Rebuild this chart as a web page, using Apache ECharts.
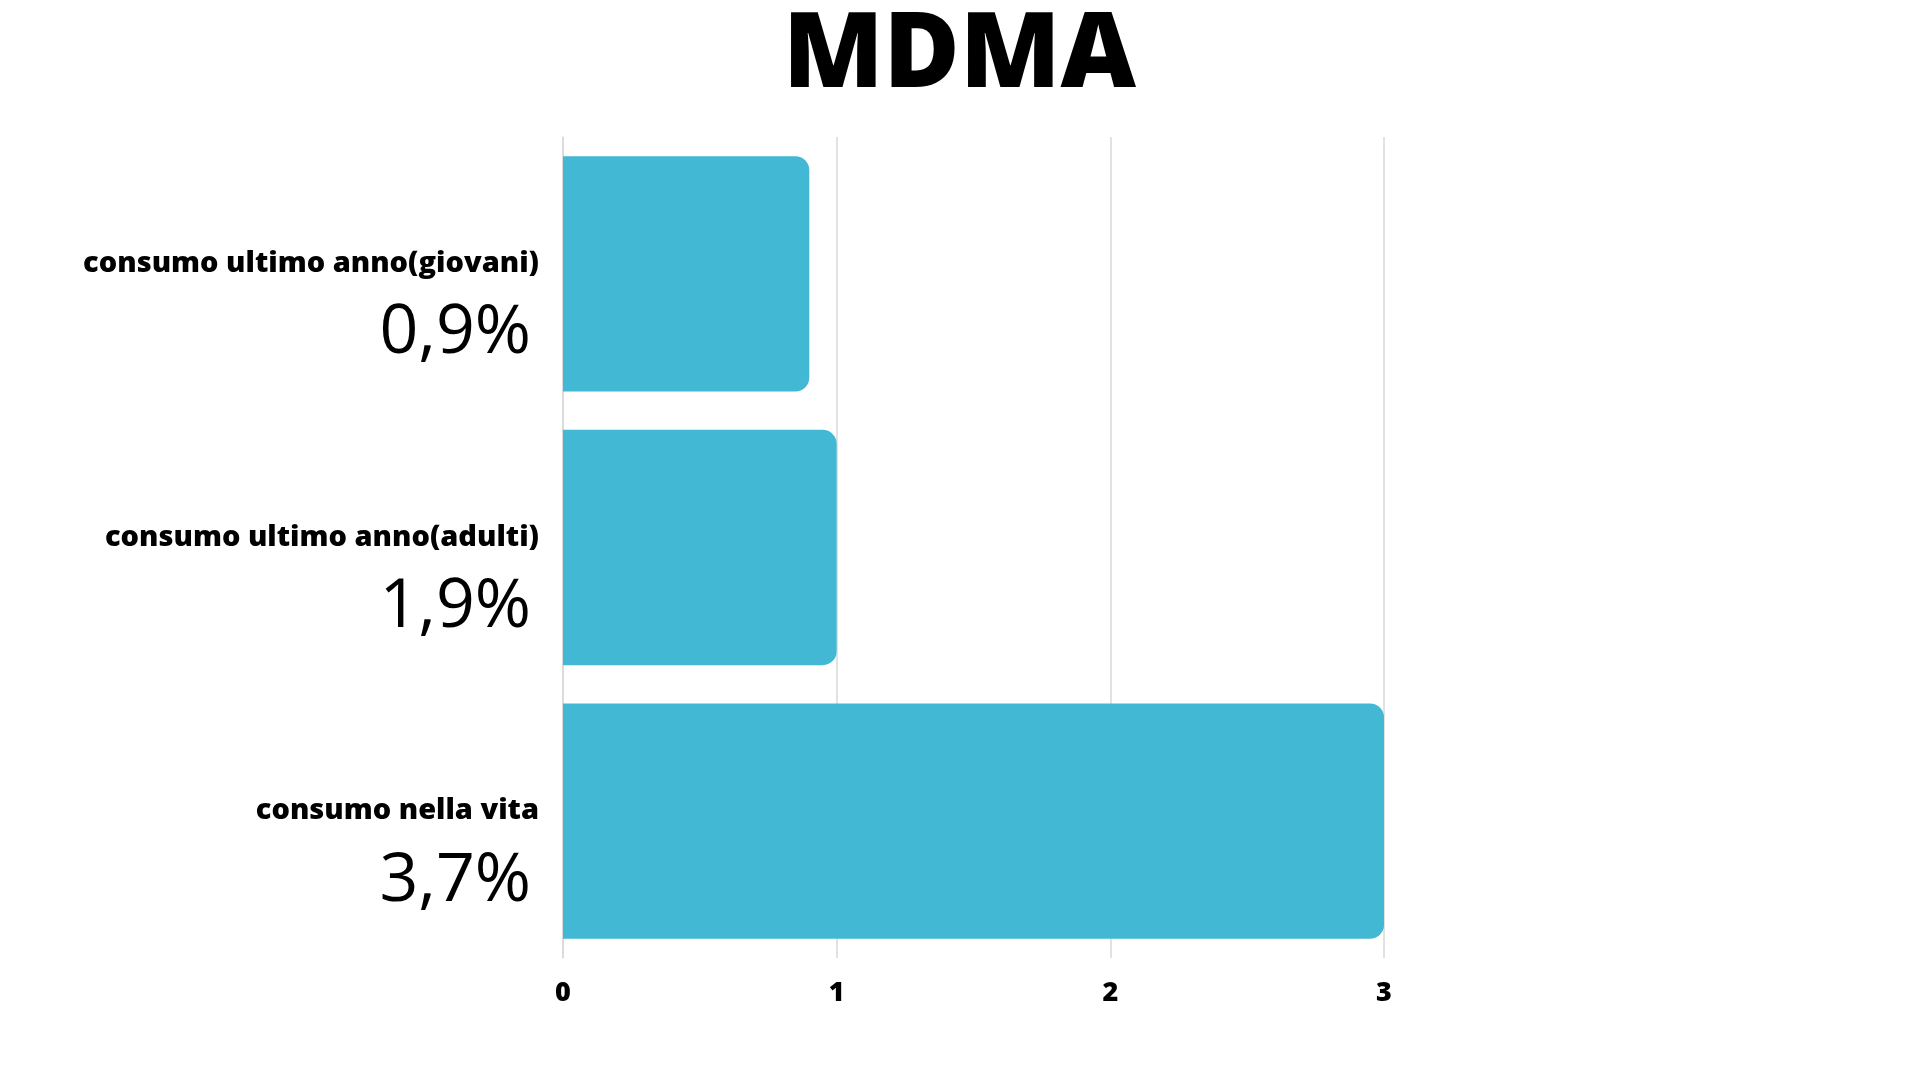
<!DOCTYPE html>
<html>
<head>
<meta charset="utf-8">
<script src="https://cdn.jsdelivr.net/npm/echarts@6/dist/echarts.min.js"></script>
<style>
  html, body { margin: 0; background: #fff; }
  #chart { width: 1919px; height: 1080px; }
</style>
</head>
<body>
<div id="chart"></div>
<script>
// data, top to bottom
const categories = ['consumo ultimo anno(giovani)', 'consumo ultimo anno(adulti)', 'consumo nella vita'];
const percentLabels = ['0,9%', '1,9%', '3,7%'];
const barValues = [0.9, 1, 3];
const xTicks = [0, 1, 2, 3];

const chart = echarts.init(document.getElementById('chart'));

chart.setOption({
  animation: false,
  title: {
    text: 'MDMA',
    left: 'center',
    top: 0,
    textStyle: { fontFamily: 'Open Sans', fontWeight: 800, fontSize: 104, color: '#000' }
  },
  grid: { left: 563, right: 535, top: 137, bottom: 122 },
  xAxis: {
    type: 'value',
    min: xTicks[0],
    max: xTicks[xTicks.length - 1],
    interval: 1,
    axisLine: { show: false },
    axisTick: { show: false },
    splitLine: { lineStyle: { color: '#d9d9d9', width: 1.5 } },
    axisLabel: {
      margin: 22,
      fontFamily: 'Open Sans', fontWeight: 800, fontSize: 27, color: '#000'
    }
  },
  yAxis: {
    type: 'category',
    inverse: true,
    data: categories,
    axisLine: { show: true, lineStyle: { color: '#d9d9d9', width: 1.5 } },
    axisTick: { show: false },
    axisLabel: {
      margin: 24,
      align: 'right',
      formatter: (v, i) => '{e|}\n{n|' + v + '}\n{p|' + percentLabels[i] + '}',
      rich: {
        e: { lineHeight: 80 },
        n: { fontFamily: 'Open Sans', fontWeight: 800, fontSize: 29, color: '#000', lineHeight: 40, align: 'right' },
        p: { fontFamily: 'Open Sans', fontWeight: 400, fontSize: 68, color: '#000', lineHeight: 100, align: 'right', padding: [0, 8, 0, 0] }
      }
    }
  },
  series: [{
    type: 'bar',
    data: barValues,
    barCategoryGap: '14%',
    itemStyle: { color: '#42B8D5', borderRadius: [0, 14, 14, 0] }
  }]
});
</script>
</body>
</html>
